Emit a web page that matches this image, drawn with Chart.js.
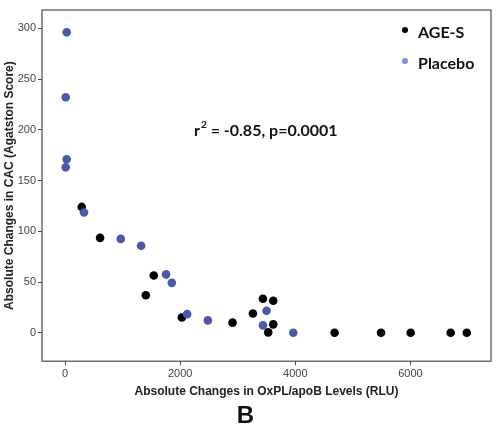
<!DOCTYPE html>
<html>
<head>
<meta charset="utf-8">
<script src="https://cdn.jsdelivr.net/npm/chart.js@4.4.1/dist/chart.umd.min.js"></script>
<style>
  html, body { margin: 0; padding: 0; background: #fff; }
  #wrap { width: 500px; height: 433px; }
</style>
</head>
<body>
<div id="wrap"><canvas id="cacChart"></canvas></div>
<script>
// AGE-S group
const ageX = [290, 609, 1403, 1542, 2029, 2910, 3264, 3438, 3617, 3617, 3530, 4683, 5490, 6005, 6700, 6979];
const ageY = [124, 93.5, 37, 56.5, 15, 10, 19, 33.5, 31.5, 8.3, 0.4, 0, 0, 0, 0, 0];
// Placebo group
const placeboX = [29, 12, 29, 12, 330, 968, 1322, 1756, 1855, 2122, 2481, 3501, 3438, 3965];
const placeboY = [296, 232, 171, 163, 118.5, 92.5, 85.7, 57.5, 49.2, 18.4, 12.2, 21.7, 7.3, 0];

const xTicks = [0, 2000, 4000, 6000];
const yTicks = [0, 50, 100, 150, 200, 250, 300];
const seriesNames = ['AGE-S', 'Placebo'];
const statText = ['r', '2', ' = -0.85, p=0.0001'];

const toPts = (xs, ys) => xs.map((x, i) => ({ x: x, y: ys[i] }));

// frame, legend and r2 text
const extras = {
  id: 'extras',
  afterDraw(chart) {
    const ctx = chart.ctx;
    const a = chart.chartArea;
    ctx.save();
    ctx.strokeStyle = '#4a4a4a';
    ctx.lineWidth = 1.2;
    ctx.strokeRect(a.left, a.top, a.right - a.left, a.bottom - a.top);

    ctx.font = 'bold 16px Lato';
    ctx.textBaseline = 'middle';
    ctx.fillStyle = '#111';
    const legDots = ['#000000', '#7b93d8'];
    seriesNames.forEach((n, i) => {
      const y = 32 + i * 31;
      ctx.beginPath();
      ctx.arc(405, y - 2, 3, 0, Math.PI * 2);
      ctx.fillStyle = legDots[i];
      ctx.fill();
      ctx.fillStyle = '#111';
      ctx.fillText(n, 418, y + 1);
    });

    let x = 194;
    const y = 131;
    ctx.fillText(statText[0], x, y);
    x += ctx.measureText(statText[0]).width + 1;
    ctx.font = 'bold 10px Lato';
    ctx.fillText(statText[1], x, y - 6);
    x += ctx.measureText(statText[1]).width;
    ctx.font = 'bold 16px Lato';
    ctx.fillText(statText[2], x, y);
    ctx.restore();
  }
};

const c1 = document.getElementById('cacChart');
new Chart(c1, {
  type: 'scatter',
  data: {
    datasets: [{
      label: seriesNames[1],
      data: toPts(placeboX, placeboY),
      backgroundColor: '#4b58ab',
      borderWidth: 0,
      pointRadius: 4.3
    }, {
      label: seriesNames[0],
      data: toPts(ageX, ageY),
      backgroundColor: '#000000',
      borderWidth: 0,
      pointRadius: 4.3
    }]
  },
  options: {
    responsive: true,
    maintainAspectRatio: false,
    animation: false,
    layout: { padding: { top: 10, right: 9, left: 0, bottom: 2 } },
    plugins: {
      legend: { display: false },
      tooltip: { enabled: false },
      title: {
        display: true,
        position: 'bottom',
        text: 'B',
        color: '#111',
        font: { family: 'Liberation Sans', size: 24, weight: 'bold' },
        padding: { top: 0, bottom: 0 }
      }
    },
    scales: {
      x: {
        type: 'linear',
        min: -400,
        max: 7400,
        afterBuildTicks: s => { s.ticks = xTicks.map(v => ({ value: v })); },
        afterFit: s => { s.height = 41; },
        grid: { display: true, drawOnChartArea: false, drawTicks: true, tickLength: 4, color: '#4a4a4a' },
        border: { display: false },
        ticks: { color: '#444', padding: 2, font: { family: 'Liberation Sans', size: 11 }, callback: v => String(v) },
        title: {
          display: true,
          text: 'Absolute Changes in OxPL/apoB Levels (RLU)',
          color: '#222',
          font: { family: 'Liberation Sans', size: 12, weight: 'bold' },
          padding: { top: 0, bottom: 3 }
        }
      },
      y: {
        type: 'linear',
        min: -28,
        max: 318,
        afterBuildTicks: s => { s.ticks = yTicks.map(v => ({ value: v })); },
        afterFit: s => { s.width = 42; },
        grid: { display: true, drawOnChartArea: false, drawTicks: true, tickLength: 4, color: '#4a4a4a' },
        border: { display: false },
        ticks: { color: '#444', padding: 2, font: { family: 'Liberation Sans', size: 11 }, callback: v => String(v) },
        title: {
          display: true,
          text: 'Absolute Changes in CAC (Agatston Score)',
          color: '#222',
          font: { family: 'Liberation Sans', size: 12, weight: 'bold' },
          padding: { top: 2, bottom: 0 }
        }
      }
    }
  },
  plugins: [extras]
});
</script>
</body>
</html>
